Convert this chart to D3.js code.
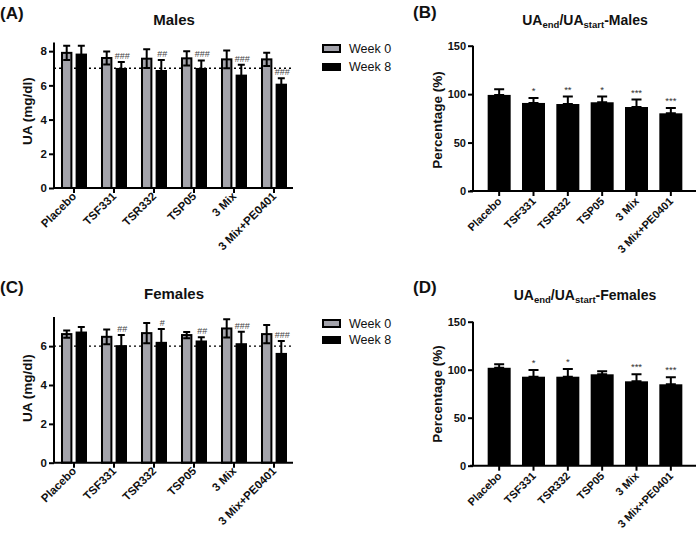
<!DOCTYPE html>
<html><head><meta charset="utf-8">
<script src="https://cdn.jsdelivr.net/npm/d3@7"></script>
<style>body{margin:0;background:#fff}svg{display:block}text{font-family:"Liberation Sans",Arial,sans-serif}</style>
</head><body>
<svg id="c" width="696" height="534"></svg>
<script>
const categories = ["Placebo","TSF331","TSR332","TSP05","3 Mix","3 Mix+PE0401"];
const seriesNames = ["Week 0","Week 8"];
const malesWeek0 = [7.9, 7.6, 7.56, 7.58, 7.52, 7.52];
const malesWeek0Err = [0.42, 0.38, 0.55, 0.42, 0.52, 0.39];
const malesWeek8 = [7.8, 6.96, 6.84, 6.96, 6.57, 6.04];
const malesWeek8Err = [0.52, 0.41, 0.65, 0.5, 0.64, 0.37];
const malesHash = ["", "###", "##", "###", "###", "###"];
const femalesWeek0 = [6.62, 6.48, 6.67, 6.57, 6.91, 6.62];
const femalesWeek0Err = [0.19, 0.38, 0.52, 0.16, 0.47, 0.47];
const femalesWeek8 = [6.70, 6.0, 6.17, 6.24, 6.10, 5.60];
const femalesWeek8Err = [0.28, 0.57, 0.71, 0.22, 0.64, 0.66];
const femalesHash = ["", "##", "#", "##", "###", "###"];
const malesRatio = [99.2, 90.9, 89.8, 91.6, 86.7, 80.2];
const malesRatioErr = [5.8, 5.1, 7.7, 5.9, 7.7, 5.5];
const malesStars = ["", "*", "**", "*", "***", "***"];
const femalesRatio = [102, 92.7, 92.7, 95.2, 87.9, 84.8];
const femalesRatioErr = [3.6, 7.0, 8.0, 3.1, 7.3, 7.3];
const femalesStars = ["", "*", "*", "", "***", "***"];
const uaTicks = [0, 2, 4, 6, 8];
const uaTicksF = [0, 2, 4, 6];
const pctTicks = [0, 50, 100, 150];

const svg = d3.select("#c");
const GRAY = "#a3a3ab";

function yAxis(g, y, ticks, x0, fs) {
  const a = g.append("g").attr("transform", `translate(${x0},0)`)
    .call(d3.axisLeft(y).tickValues(ticks).tickSize(5).tickSizeOuter(0).tickFormat(d3.format("d")));
  a.select(".domain").attr("stroke-width", 2).attr("d", `M0,${y.range()[0]}V${y.range()[1]}`);
  a.selectAll(".tick line").attr("stroke-width", 2);
  a.selectAll(".tick text").attr("font-size", fs).attr("font-weight", "bold").attr("fill", "#111").attr("x", -7);
}
function xAxis(g, x, y0, xStart, xEnd, fs, dx, dy) {
  g.append("line").attr("x1", xStart).attr("x2", xEnd).attr("y1", y0).attr("y2", y0).attr("stroke", "#000").attr("stroke-width", 2);
  categories.forEach(c => {
    const cx = x(c) + x.bandwidth() / 2;
    g.append("line").attr("x1", cx).attr("x2", cx).attr("y1", y0).attr("y2", y0 + 5).attr("stroke", "#000").attr("stroke-width", 2);
    g.append("text").attr("transform", `translate(${cx + dx},${y0 + dy}) rotate(-45)`)
      .attr("text-anchor", "end").attr("font-size", fs).attr("font-weight", "bold").attr("fill", "#111").text(c);
  });
}
function errBar(g, cx, yTop, yBot, cap) {
  g.append("path").attr("d", `M${cx},${yBot}V${yTop}M${cx - cap / 2},${yTop}H${cx + cap / 2}M${cx - cap / 2},${yBot}H${cx + cap / 2}`)
    .attr("stroke", "#000").attr("stroke-width", 2).attr("fill", "none");
}
function titleSub(x, y, pre, sub1, mid, sub2, post, fs) {
  const t = svg.append("text").attr("x", x).attr("y", y).attr("text-anchor", "middle").attr("font-size", fs).attr("font-weight", "bold").attr("fill", "#111");
  t.append("tspan").text(pre);
  t.append("tspan").attr("font-size", fs * 0.68).attr("dy", 3).text(sub1);
  t.append("tspan").attr("dy", -3).text(mid);
  t.append("tspan").attr("font-size", fs * 0.68).attr("dy", 3).text(sub2);
  t.append("tspan").attr("dy", -3).text(post);
}
function label(x, y, txt, fs) {
  svg.append("text").attr("x", x).attr("y", y).attr("font-size", fs).attr("font-weight", "bold").attr("fill", "#111").text(txt);
}
function yLabel(x, y, txt, fs) {
  svg.append("text").attr("transform", `translate(${x},${y}) rotate(-90)`).attr("text-anchor", "middle")
    .attr("font-size", fs).attr("font-weight", "bold").attr("fill", "#111").text(txt);
}

function grouped(o) {
  const g = svg.append("g");
  const x = d3.scaleBand().domain(categories).range([54, 294]).paddingInner(0).paddingOuter(0);
  const xs = d3.scaleBand().domain(seriesNames).range([-13, 13]).paddingInner(0.22);
  const y = d3.scaleLinear().domain([0, o.yMax]).range([o.bottom, o.top]);
  g.append("line").attr("x1", 54).attr("x2", 294).attr("y1", y(o.ref)).attr("y2", y(o.ref))
    .attr("stroke", "#000").attr("stroke-width", 1.3).attr("stroke-dasharray", "2,3");
  const vals = [o.w0, o.w8], errs = [o.e0, o.e8];
  categories.forEach((c, i) => {
    const cx = x(c) + x.bandwidth() / 2;
    seriesNames.forEach((s, k) => {
      const bx = cx + xs(s);
      const v = vals[k][i], e = errs[k][i];
      if (k === 0) {
        g.append("rect").attr("x", bx + 1).attr("y", y(v)).attr("width", xs.bandwidth() - 2).attr("height", y(0) - y(v))
          .attr("fill", GRAY).attr("stroke", "#000").attr("stroke-width", 2);
      } else {
        g.append("rect").attr("x", bx).attr("y", y(v) - 1).attr("width", xs.bandwidth()).attr("height", y(0) - y(v) + 1).attr("fill", "#000");
      }
      errBar(g, bx + xs.bandwidth() / 2, y(v + e), y(v - e), 7);
      if (k === 1 && o.hash[i]) {
        g.append("text").attr("x", bx + xs.bandwidth() / 2 + 1).attr("y", y(v + e) - 3).attr("text-anchor", "middle")
          .attr("font-size", 9).attr("fill", "#444").text(o.hash[i]);
      }
    });
  });
  yAxis(g, y, o.ticks, 54, 11.5);
  xAxis(g, x, o.bottom, 54, 293, 11.5, 3, 9);
  const L = o.legend;
  g.append("rect").attr("x", 323).attr("y", L[0]).attr("width", 17).attr("height", 7).attr("fill", GRAY).attr("stroke", "#000").attr("stroke-width", 2);
  g.append("rect").attr("x", 322).attr("y", L[1]).attr("width", 19).attr("height", 8).attr("fill", "#000");
  g.append("text").attr("x", 349).attr("y", L[0] + 8).attr("font-size", 12.5).attr("fill", "#111").text(seriesNames[0]);
  g.append("text").attr("x", 349).attr("y", L[1] + 8).attr("font-size", 12.5).attr("fill", "#111").text(seriesNames[1]);
}

function single(o) {
  const g = svg.append("g");
  const x = d3.scaleBand().domain(categories).range([482, 688]).paddingInner(0.33).paddingOuter(0.165);
  const y = d3.scaleLinear().domain([0, 150]).range([o.bottom, o.top]);
  categories.forEach((c, i) => {
    const bx = x(c), v = o.v[i], e = o.e[i];
    g.append("rect").attr("x", bx).attr("y", y(v)).attr("width", x.bandwidth()).attr("height", y(0) - y(v)).attr("fill", "#000");
    errBar(g, bx + x.bandwidth() / 2, y(v + e), y(v), 10);
    if (o.stars[i]) {
      g.append("text").attr("x", bx + x.bandwidth() / 2).attr("y", y(v + e) - 4).attr("text-anchor", "middle")
        .attr("font-size", 9.5).attr("fill", "#333").text(o.stars[i]);
    }
  });
  yAxis(g, y, pctTicks, 473, 11);
  xAxis(g, x, o.bottom, 470, 696, 11, 3, 11);
}

// Panel A
label(0, 19, "(A)", 17);
svg.append("text").attr("x", 174).attr("y", 25).attr("text-anchor", "middle").attr("font-size", 15).attr("font-weight", "bold").attr("fill", "#111").text("Males");
yLabel(32, 111, "UA (mg/dl)", 13.5);
grouped({yMax: 8.5, top: 42.6, bottom: 188, ticks: uaTicks, ref: 7, w0: malesWeek0, e0: malesWeek0Err, w8: malesWeek8, e8: malesWeek8Err, hash: malesHash, legend: [45, 63]});

// Panel C
label(0, 293, "(C)", 17);
svg.append("text").attr("x", 174).attr("y", 299).attr("text-anchor", "middle").attr("font-size", 15).attr("font-weight", "bold").attr("fill", "#111").text("Females");
yLabel(32, 388, "UA (mg/dl)", 13.5);
grouped({yMax: 7.5, top: 317, bottom: 462.7, ticks: uaTicksF, ref: 6, w0: femalesWeek0, e0: femalesWeek0Err, w8: femalesWeek8, e8: femalesWeek8Err, hash: femalesHash, legend: [320, 336]});

// Panel B
label(413, 18, "(B)", 17);
titleSub(585, 25, "UA", "end", "/UA", "start", "-Males", 14);
yLabel(442, 120, "Percentage (%)", 13.5);
single({top: 45.7, bottom: 191, v: malesRatio, e: malesRatioErr, stars: malesStars});

// Panel D
label(413, 293, "(D)", 17);
titleSub(585, 300, "UA", "end", "/UA", "start", "-Females", 14);
yLabel(442, 394, "Percentage (%)", 13.5);
single({top: 321.7, bottom: 465.7, v: femalesRatio, e: femalesRatioErr, stars: femalesStars});
</script>
</body></html>
